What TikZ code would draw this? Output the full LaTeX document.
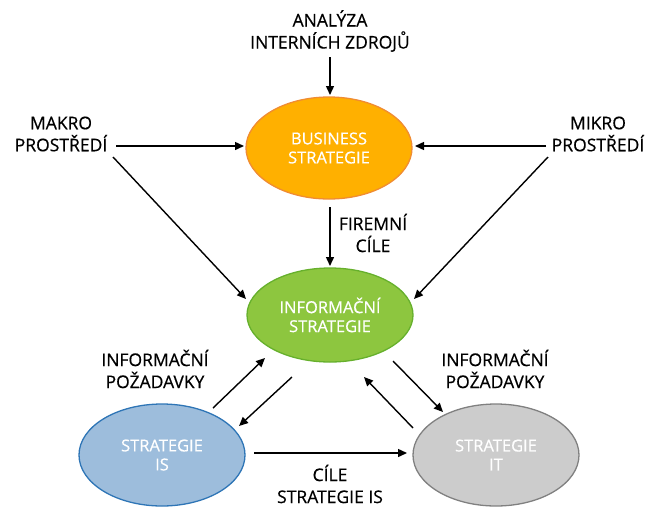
\documentclass[tikz,border=0pt]{standalone}
\usepackage{fontspec}
\setmainfont{Open Sans}[FakeBold=0.5]
\usetikzlibrary{shapes.geometric,arrows.meta}
\definecolor{busfill}{RGB}{255,176,0}
\definecolor{busline}{RGB}{240,140,50}
\definecolor{inffill}{RGB}{141,198,63}
\definecolor{infline}{RGB}{102,176,44}
\definecolor{isfill}{RGB}{157,189,220}
\definecolor{isline}{RGB}{46,117,182}
\definecolor{itfill}{RGB}{204,204,204}
\definecolor{itline}{RGB}{128,128,128}
\tikzset{
  ell/.style={ellipse, minimum width=166pt, minimum height=102pt, inner sep=0pt, line width=1.3pt,
    text=white, align=center, font=\fontsize{16.5}{19}\selectfont},
  lbl/.style={align=center, font=\fontsize{17.5}{22}\selectfont, inner sep=0pt},
  arr/.style={line width=1.4pt, -{Triangle[length=9pt,width=8pt]}},
  ln/.style={line width=1.4pt}
}
\begin{document}
\begin{tikzpicture}[x=1pt,y=-1pt]
\useasboundingbox (0,0) rectangle (651,507);
\node[ell, fill=busfill, draw=busline] (bus) at (329,148) {BUSINESS\\STRATEGIE};
\node[ell, fill=inffill, draw=infline, minimum height=94pt] (inf) at (330,315) {INFORMAČNÍ\\STRATEGIE};
\node[ell, fill=isfill, draw=isline] (is) at (162,455) {STRATEGIE\\IS};
\node[ell, fill=itfill, draw=itline] (it) at (496,455) {STRATEGIE\\IT};

\node[lbl] (ana) at (330,31) {ANALÝZA\\INTERNÍCH ZDROJŮ};
\node[lbl] (makro) at (61,134) {MAKRO\\PROSTŘEDÍ};
\node[lbl] (mikro) at (598,134) {MIKRO\\PROSTŘEDÍ};
\node[lbl] (fc) at (373,233) {FIREMNÍ\\CÍLE};
\node[lbl] (ipl) at (155,369) {INFORMAČNÍ\\POŽADAVKY};
\node[lbl] (ipr) at (495,369) {INFORMAČNÍ\\POŽADAVKY};
\node[lbl] (cis) at (330,484) {CÍLE\\STRATEGIE IS};

\coordinate (a1) at (330,57);
\coordinate (a2) at (330,95);
\coordinate (m1) at (116,146);
\coordinate (m2) at (244,146);
\coordinate (k1) at (546,146);
\coordinate (k2) at (415,146);
\coordinate (f1) at (330,207);
\coordinate (f2) at (330,266);
\coordinate (d1) at (113,157);
\coordinate (d2) at (246,299);
\coordinate (e1) at (548,157);
\coordinate (e2) at (414,299);
\coordinate (s1) at (213,408);
\coordinate (s2) at (265,358);
\coordinate (t1) at (292,377);
\coordinate (t2) at (239,426);
\coordinate (u1) at (393,361);
\coordinate (u2) at (443,412);
\coordinate (v1) at (413,428);
\coordinate (v2) at (364,377);
\coordinate (h1) at (254,453);
\coordinate (h2) at (407,453);

\draw[arr] (a1) -- (a2);
\draw[arr] (m1) -- (m2);
\draw[arr] (k1) -- (k2);
\draw[arr] (f1) -- (f2);
\draw[arr] (d1) -- (d2);
\draw[arr] (e1) -- (e2);
\draw[arr] (s1) -- (s2);
\draw[arr] (t1) -- (t2);
\draw[arr] (u1) -- (u2);
\draw[arr] (v1) -- (v2);
\draw[arr] (h1) -- (h2);
\end{tikzpicture}
\end{document}
